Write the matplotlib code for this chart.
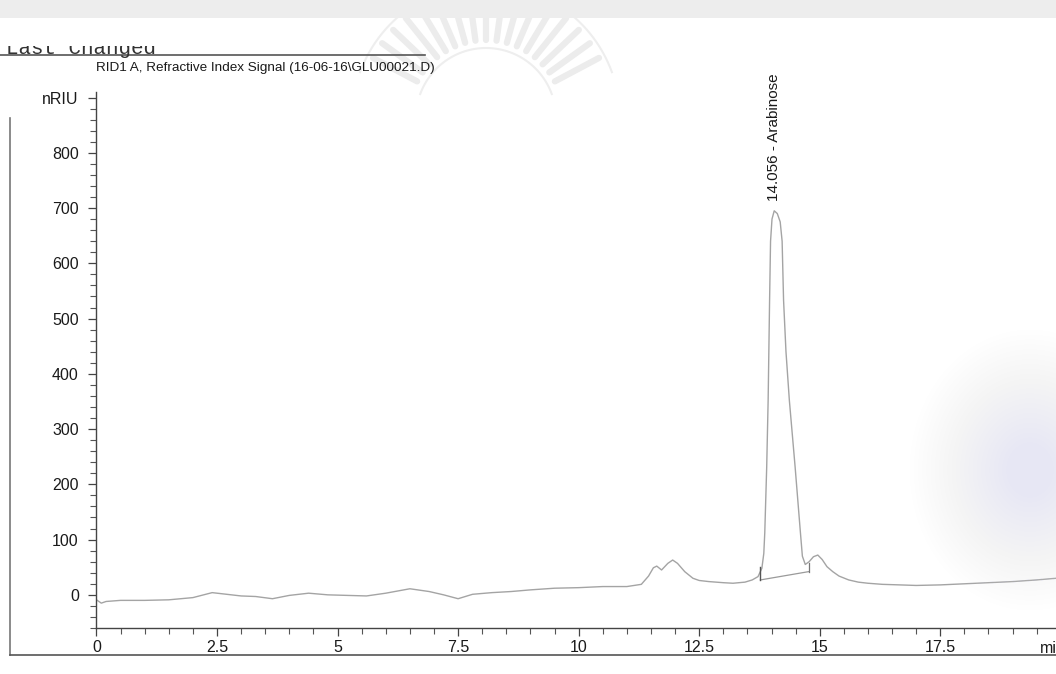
import numpy as np
import matplotlib
matplotlib.use("Agg")
import matplotlib.pyplot as plt
from matplotlib.ticker import MultipleLocator, FixedLocator, FuncFormatter
from matplotlib.transforms import Bbox
from matplotlib.patches import Rectangle, Ellipse
from matplotlib.lines import Line2D

plt.rcParams['font.family'] = ['Liberation Sans', 'DejaVu Sans']

# Refractive index detector trace (retention time in min, signal in nRIU)
time_min = [0.0, 0.1, 0.2, 0.5, 1.0, 1.5, 2.0, 2.4, 2.7, 3.0, 3.3, 3.65, 4.0, 4.4,
            4.8, 5.2, 5.6, 6.0, 6.5, 6.9, 7.2, 7.5, 7.8, 8.2, 8.6, 9.0, 9.5, 10.0,
            10.5, 11.0, 11.3, 11.45, 11.55, 11.62, 11.72, 11.85, 11.95, 12.05, 12.2,
            12.37, 12.5, 12.7, 13.0, 13.2, 13.45, 13.6, 13.72, 13.8, 13.84, 13.86,
            13.90, 13.93, 13.96, 13.98, 14.01, 14.056, 14.12, 14.18, 14.22, 14.25,
            14.30, 14.37, 14.49, 14.60, 14.64, 14.70, 14.78, 14.87, 14.96, 15.05,
            15.15, 15.27, 15.4, 15.6, 15.8, 16.0, 16.3, 16.66, 17.0, 17.5, 18.0,
            18.5, 19.0, 19.5, 19.9]
signal_nriu = [-9, -15, -12, -10, -10, -9, -5, 4, 1, -2, -3, -7, -1, 3,
               0, -1, -2, 3, 11, 6, 0, -7, 1, 4, 6, 9, 12, 13,
               15, 15, 19, 34, 49, 52, 45, 57, 63, 57, 42,
               30, 26, 24, 22, 21, 23, 27, 33, 48, 75, 112,
               231, 352, 533, 640, 680, 695, 690, 675, 640, 533,
               440, 352, 231, 112, 70, 55, 60, 69, 72, 64,
               51, 42, 34, 27, 23, 21, 19, 18, 17, 18, 20,
               22, 24, 27, 30]

peak_rt = 14.056
peak_name = "Arabinose"
peak_height = 695

# integration baseline of the labelled peak
base_start = (13.77, 27)
base_end = (14.77, 42)

x_major = [0, 2.5, 5, 7.5, 10, 12.5, 15, 17.5]
y_major = [0, 100, 200, 300, 400, 500, 600, 700, 800, 900]

W, H = 1056, 674
fig = plt.figure(figsize=(W / 100, H / 100), dpi=100)
fig.patch.set_facecolor('white')


def fx(x):
    return x / W


def fy(y):
    return 1 - y / H


# scanned page: light band on top and faint shading on the right
fig.patches.append(Rectangle((0, fy(18)), 1, 18 / H, transform=fig.transFigure,
                             facecolor='#ededed', edgecolor='none', zorder=0))
for k in range(24):
    sc = 1 - k * 0.035
    fig.patches.append(Ellipse((fx(1030), fy(470)), 240 * sc / W, 280 * sc / H,
                               transform=fig.transFigure, facecolor='#e6e6f4',
                               edgecolor='none', alpha=0.018, zorder=0))

# watermark emblem (fan of rays)
cx, cy = 486, 118
for ang in np.linspace(28, 152, 17):
    a = np.deg2rad(ang)
    r0, r1 = 78, 128
    xs = [cx + r0 * np.cos(a), cx + r1 * np.cos(a)]
    ys = [cy - r0 * np.sin(a), cy - r1 * np.sin(a)]
    fig.lines.append(Line2D([fx(v) for v in xs], [fy(v) for v in ys],
                            transform=fig.transFigure, color='#ececec', lw=4.5,
                            solid_capstyle='round', zorder=0))
arc_a = np.deg2rad(np.linspace(20, 160, 60))
for rr in (70, 134):
    fig.lines.append(Line2D([fx(cx + rr * np.cos(a)) for a in arc_a],
                            [fy(cy - rr * np.sin(a)) for a in arc_a],
                            transform=fig.transFigure, color='#eeeeee', lw=1.5, zorder=0))

# page frame
frame_col = '#555555'
fig.lines.append(Line2D([fx(10), fx(10)], [fy(118), fy(655)], transform=fig.transFigure,
                        color='#777777', lw=1.2))
fig.lines.append(Line2D([fx(10), fx(W)], [fy(655), fy(655)], transform=fig.transFigure,
                        color=frame_col, lw=1.2))
fig.lines.append(Line2D([fx(0), fx(425)], [fy(55), fy(55)], transform=fig.transFigure,
                        color=frame_col, lw=1.2))

# header line, only its lower part visible on the page
hdr = fig.text(fx(6), fy(54), "Last Changed", family='Liberation Mono', fontsize=15,
               color='#333333', ha='left', va='baseline')
hdr.set_clip_box(Bbox.from_extents(0, 0, W, H - 46))
hdr.set_clip_on(True)

fig.text(fx(96), fy(68), "RID1 A, Refractive Index Signal (16-06-16\\GLU00021.D)",
         fontsize=9.7, color='#1a1a1a', ha='left', va='center')

ax = fig.add_axes([fx(95.5), 46 / H, (W - 95.5) / W, (628 - 92) / H])
ax.set_facecolor('none')
ax.plot(time_min, signal_nriu, color='#a4a4a4', lw=1.0)

# integration markers
ax.plot([base_start[0], base_end[0]], [base_start[1], base_end[1]], color='#9a9a9a', lw=0.9)
ax.plot([base_start[0], base_start[0]], [base_start[1], base_start[1] + 24], color='#555555', lw=1.0)
ax.plot([base_end[0], base_end[0]], [base_end[1], base_end[1] + 16], color='#777777', lw=0.9)

ax.text(peak_rt, peak_height + 18, f"{peak_rt:.3f} - {peak_name}", rotation=90,
        ha='center', va='bottom', fontsize=11, color='#1a1a1a')

ax.set_xlim(-0.02, 19.9)
ax.set_ylim(-60, 910)

for s in ('top', 'right'):
    ax.spines[s].set_visible(False)
for s in ('left', 'bottom'):
    ax.spines[s].set_color('#444444')
    ax.spines[s].set_linewidth(1.0)

ax.xaxis.set_major_locator(FixedLocator(x_major))
ax.xaxis.set_minor_locator(MultipleLocator(0.5))
ax.xaxis.set_major_formatter(FuncFormatter(lambda v, p: f"{v:g}"))
ax.yaxis.set_major_locator(FixedLocator(y_major))
ax.yaxis.set_minor_locator(MultipleLocator(20))
ax.yaxis.set_major_formatter(FuncFormatter(lambda v, p: "nRIU" if v == 900 else f"{v:g}"))

ax.tick_params(axis='both', which='major', length=6, width=0.9, color='#444444',
               labelsize=11.5, labelcolor='#1a1a1a')
ax.tick_params(axis='both', which='minor', length=4, width=0.8, color='#555555')
ax.tick_params(axis='x', which='major', pad=3)
ax.tick_params(axis='y', which='major', pad=6)

# axis unit at the right end of the time axis
ax.text(19.57, -83, "min", fontsize=11.5, color='#1a1a1a', ha='left', va='top',
        clip_on=False)

fig.savefig("out.png", dpi=100)
